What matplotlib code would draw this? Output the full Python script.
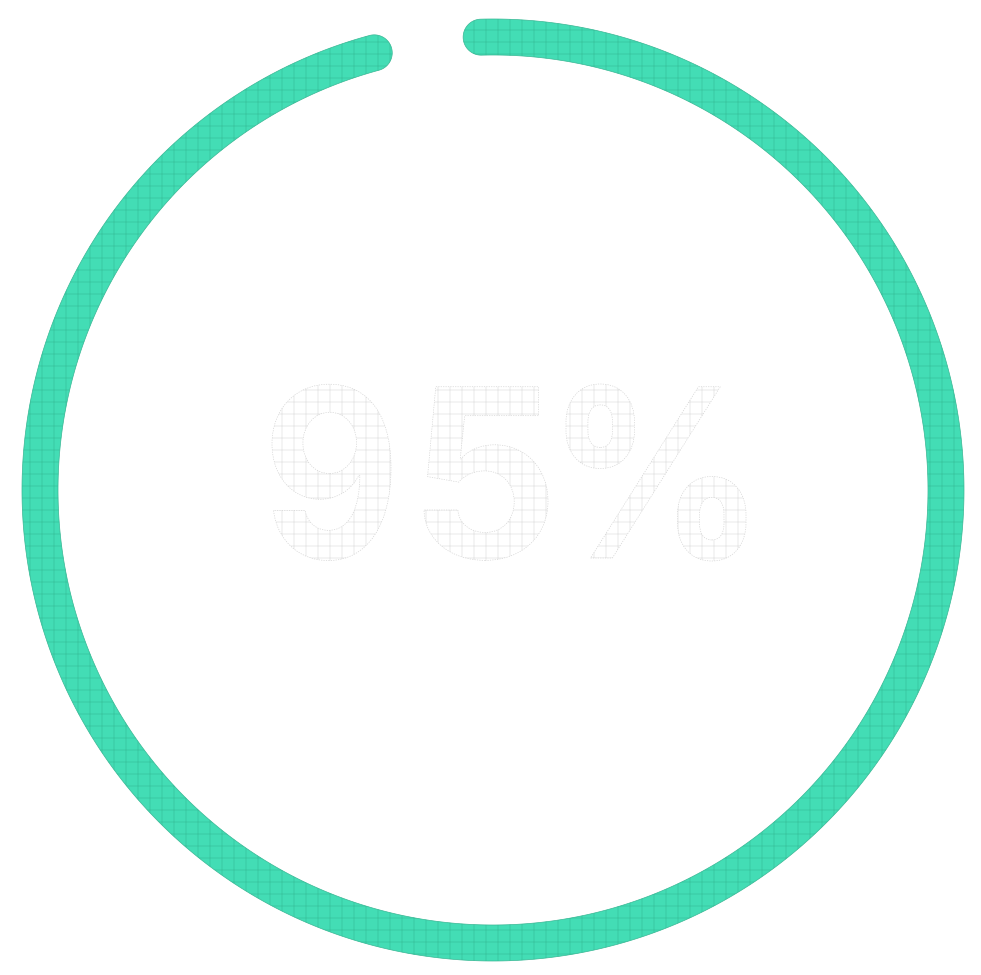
import numpy as np
import matplotlib.pyplot as plt
from matplotlib.path import Path
from matplotlib.patches import PathPatch
from matplotlib.textpath import TextPath
from matplotlib.font_manager import FontProperties
from matplotlib.transforms import Affine2D

# data
progress = 95                      # percent shown by the ring
label = f"{progress}%"

# layout (pixel units, y pointing down)
W, H = 981, 975
cx, cy = 493, 490                  # ring centre
r_mid = 453                        # radius of the ring centre line
ring_w = 36                        # ring thickness
start_deg = 91.5                   # where the arc starts (top), goes clockwise
cap_extra = 4.3                    # degrees added for the round caps
text_top, text_h = 384, 177
char_boxes = [(272, 391), (424, 548), (566, 746)]   # left/right of each glyph

ring_color = '#43DDB5'
ring_grid = '#3BCBA4'
ring_edge = '#39B794'
text_grid = '#EBEBEB'
text_edge = '#CFCFCF'

plt.rcParams['hatch.linewidth'] = 1.0

fig = plt.figure(figsize=(W / 72, H / 72), dpi=72)
ax = fig.add_axes([0, 0, 1, 1])
ax.set_xlim(0, W)
ax.set_ylim(H, 0)
ax.axis('off')


def ring_path(value):
    span = np.deg2rad(360 * value / 100 + cap_extra)
    th0 = np.deg2rad(start_deg)
    th = th0 - np.linspace(0, span, 800)
    ro, ri, rc = r_mid + ring_w / 2, r_mid - ring_w / 2, ring_w / 2
    pts = []
    # outer edge
    pts += list(zip(ro * np.cos(th), ro * np.sin(th)))
    # end cap
    te = th[-1]
    u = np.array([np.cos(te), np.sin(te)])
    t = np.array([np.sin(te), -np.cos(te)])
    c = r_mid * u
    for phi in np.linspace(0, np.pi, 60):
        pts.append(tuple(c + rc * (np.cos(phi) * u + np.sin(phi) * t)))
    # inner edge back
    pts += list(zip(ri * np.cos(th[::-1]), ri * np.sin(th[::-1])))
    # start cap
    u = np.array([np.cos(th0), np.sin(th0)])
    t = np.array([np.sin(th0), -np.cos(th0)])
    c = r_mid * u
    for phi in np.linspace(0, np.pi, 60):
        pts.append(tuple(c + rc * (-np.cos(phi) * u - np.sin(phi) * t)))
    pts = np.array(pts)
    xy = np.column_stack([cx + pts[:, 0], cy - pts[:, 1]])
    xy = np.vstack([xy, xy[:1]])
    codes = [Path.MOVETO] + [Path.LINETO] * (len(xy) - 2) + [Path.CLOSEPOLY]
    return Path(xy, codes)


rp = ring_path(progress)
ax.add_patch(PathPatch(rp, facecolor=ring_color, edgecolor=ring_grid,
                       hatch='+', lw=0))
ax.add_patch(PathPatch(rp, fill=False, edgecolor=ring_edge, lw=0.7))

# big label, one glyph at a time
fp = FontProperties(family=['Inter', 'DejaVu Sans'], weight='bold')
full = TextPath((0, 0), label, size=100, prop=fp).get_extents()
s = text_h / full.height
for ch, (x0, x1) in zip(label, char_boxes):
    tp = TextPath((0, 0), ch, size=100, prop=fp)
    ext = tp.get_extents()
    sx = (x1 - x0) / ext.width
    tr = (Affine2D().translate(-ext.x0, -full.y1).scale(sx, -s)
          .translate(x0, text_top))
    tpath = tr.transform_path(tp)
    ax.add_patch(PathPatch(tpath, facecolor='white', edgecolor=text_grid,
                           hatch='+', lw=0))
    ax.add_patch(PathPatch(tpath, fill=False, edgecolor=text_edge, lw=0.6,
                           linestyle=(0, (2, 2))))

fig.savefig('out.png', dpi=72, facecolor='white')
